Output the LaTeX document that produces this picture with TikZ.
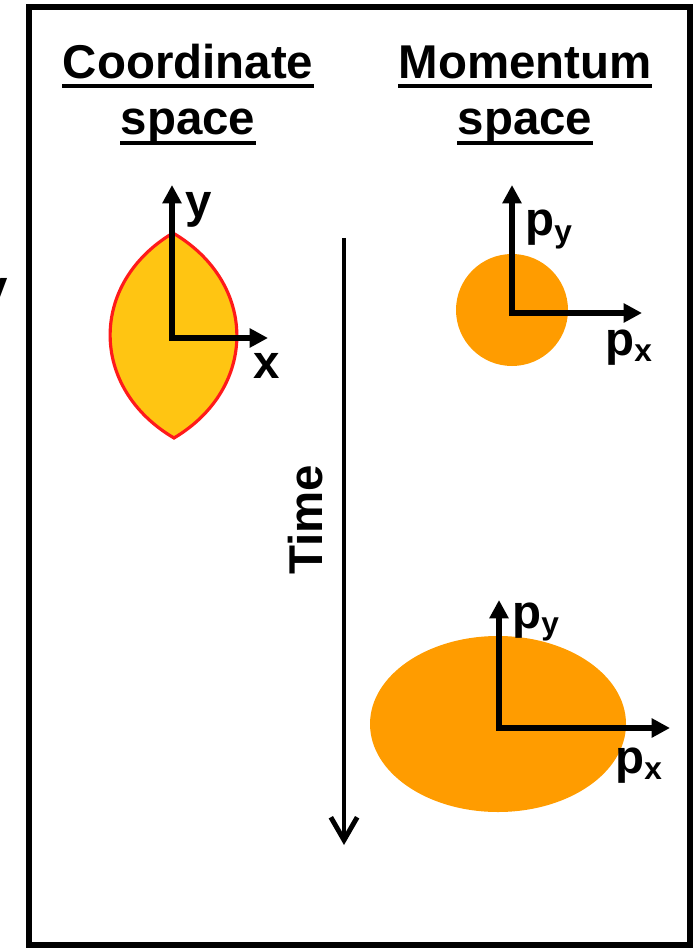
\documentclass[tikz,border=0pt]{standalone}
\usepackage{fontspec}
\setmainfont{Liberation Sans}
\usetikzlibrary{
  arrows.meta,
  calc
}
\definecolor{lensfill}{HTML}{FFC512}
\definecolor{lensedge}{HTML}{FF1A1A}
\definecolor{blob}{HTML}{FF9C00}
\newcommand{\psub}[1]{p\raisebox{-0.14em}{\fontsize{18}{20}\selectfont #1}}

\begin{document}
\begin{tikzpicture}[
  x=0.02cm, y=-0.02cm,
  title/.style={font=\fontsize{27}{32}\selectfont\bfseries, inner sep=0pt},
  lbl/.style={font=\fontsize{27}{32}\selectfont\bfseries, inner sep=0pt},
  uline/.style={line width=2.8pt},
  frame/.style={line width=3.1pt},
  axis/.style={{Triangle[length=10.5pt, width=10.5pt]}-{Triangle[length=10.5pt, width=10.5pt]},
               line width=3.3pt, line join=miter},
  timearr/.style={-{Straight Barb[length=13pt, width=15pt]}, line width=2.8pt},
  lens/.style={fill=lensfill, draw=lensedge, line width=1.8pt}
]
  \useasboundingbox (0,0) rectangle (695,949);
  \draw[frame] (29,7) rectangle (690,945);

  % headings
  \node[title, anchor=base] (coordhead) at (188,79) {Coordinate};
  \node[title, anchor=base] (coordsub) at (188,135) {space};
  \node[title, anchor=base] (momhead) at (525,79) {Momentum};
  \node[title, anchor=base] (momsub) at (525,135) {space};
  \draw[uline] ([yshift=-0.14cm]coordhead.base west) -- ([yshift=-0.14cm]coordhead.base east);
  \draw[uline] ([yshift=-0.16cm]coordsub.base west) -- ([yshift=-0.16cm]coordsub.base east);
  \draw[uline] ([yshift=-0.14cm]momhead.base west) -- ([yshift=-0.14cm]momhead.base east);
  \draw[uline] ([yshift=-0.16cm]momsub.base west) -- ([yshift=-0.16cm]momsub.base east);

  \node[lbl, anchor=base east] (ycut) at (8,303) {y};

  % coordinate space
  \draw[lens] (173,233) .. controls (258,283) and (258,388) .. (174,438)
              .. controls (89,388) and (89,283) .. (173,233) -- cycle;
  \coordinate (corig) at (172,338);
  \coordinate (cyend) at (172,185);
  \coordinate (cxend) at (268,338);
  \draw[axis] (cyend) -- (corig) -- (cxend);
  \node[lbl, anchor=base west] (ylab) at (185,218) {y};
  \node[lbl, anchor=base west] (xlab) at (253,378) {x};

  % time
  \coordinate (tstart) at (344,238);
  \coordinate (tend) at (344,845);
  \draw[timearr] (tstart) -- (tend);
  \node[lbl, rotate=90, anchor=base] (time) at (322,520) {Time};

  % momentum space, early
  \fill[blob] (512,310) circle [radius=56];
  \coordinate (porig) at (512,313);
  \coordinate (pyend) at (512,185);
  \coordinate (pxend) at (642,313);
  \draw[axis] (pyend) -- (porig) -- (pxend);
  \node[lbl, anchor=base west] (pytop) at (525,236) {\psub{y}};
  \node[lbl, anchor=base west] (pxtop) at (605,355) {\psub{x}};

  % momentum space, late
  \fill[blob] (498,724) ellipse [x radius=128, y radius=88];
  \coordinate (qorig) at (499,728);
  \coordinate (qyend) at (499,600);
  \coordinate (qxend) at (670,728);
  \draw[axis] (qyend) -- (qorig) -- (qxend);
  \node[lbl, anchor=base west] (pybot) at (512,628) {\psub{y}};
  \node[lbl, anchor=base west] (pxbot) at (615,773) {\psub{x}};
\end{tikzpicture}
\end{document}
